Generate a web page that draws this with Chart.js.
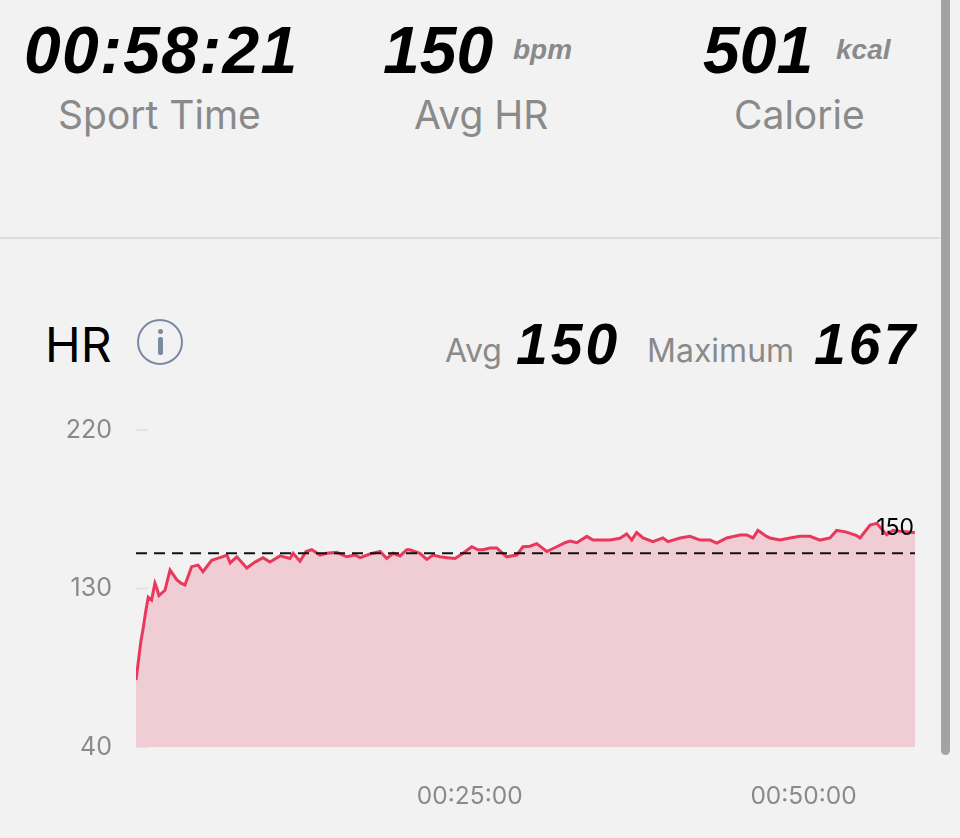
<!DOCTYPE html>
<html>
<head>
<meta charset="utf-8">
<script src="https://cdn.jsdelivr.net/npm/chart.js@4.4.1/dist/chart.umd.min.js"></script>
<style>
  html,body{margin:0;padding:0;background:#f2f2f2;width:960px;height:838px;overflow:hidden;}
  .abs{position:absolute;white-space:nowrap;}
  .big{font-family:"Liberation Sans",Arial,sans-serif;font-weight:bold;font-style:italic;color:#000;}
  .unit{font-family:"Liberation Sans",Arial,sans-serif;font-weight:bold;font-style:italic;color:#8a8a8a;font-size:28px;}
  .lab{font-family:Inter,"Liberation Sans",sans-serif;color:#8a8a8a;font-size:39px;}
  .lab2{font-family:Inter,"Liberation Sans",sans-serif;color:#8a8a8a;font-size:32px;}
  #sep{position:absolute;left:0;top:237px;width:940px;height:2px;background:#dddddd;}
  #scroll{position:absolute;left:941px;top:0;width:9px;height:755px;background:#a3a3a3;border-radius:0 0 5px 5px;}
  #icon{position:absolute;left:137px;top:319px;width:46px;height:46px;border:2.5px solid #7b8aa3;border-radius:50%;box-sizing:border-box;}
  #icon .dot{position:absolute;left:18.5px;top:8px;width:5px;height:5px;border-radius:50%;background:#7b8aa3;}
  #icon .stem{position:absolute;left:18.5px;top:16px;width:5px;height:18px;border-radius:2px;background:#7b8aa3;}
  #chartWrap{position:absolute;left:0;top:390px;width:940px;height:448px;}
</style>
</head>
<body>
<div class="abs big" style="left:24px;top:12px;font-size:66px;letter-spacing:1.3px;">00:58:21</div>
<div class="abs big" style="left:383px;top:12px;font-size:66px;">150</div>
<div class="abs unit" style="left:513px;top:34px;">bpm</div>
<div class="abs big" style="left:703px;top:12px;font-size:66px;">501</div>
<div class="abs unit" style="left:836px;top:34px;">kcal</div>

<div class="abs lab" style="left:58px;top:91px;">Sport Time</div>
<div class="abs lab" style="left:414px;top:91px;">Avg HR</div>
<div class="abs lab" style="left:734px;top:91px;">Calorie</div>

<div id="sep"></div>
<div id="scroll"></div>

<div class="abs" style="left:45px;top:315px;font-family:Inter,'Liberation Sans',sans-serif;font-size:48px;color:#000;">HR</div>
<div id="icon"><div class="dot"></div><div class="stem"></div></div>

<div class="abs lab2" style="left:445px;top:331px;">Avg</div>
<div class="abs big" style="left:516px;top:311px;font-size:57px;letter-spacing:3px;">150</div>
<div class="abs lab2" style="left:647px;top:331px;">Maximum</div>
<div class="abs big" style="left:814px;top:311px;font-size:57px;letter-spacing:3px;">167</div>

<div id="chartWrap"><canvas id="c" width="940" height="448"></canvas></div>

<script>
// Elapsed time in seconds
const timeSec = [0,10,22,33,45,55,70,85,94,103,130,153,183,202,220,250,279,301,340,363,387,409,423,453,498,535,571,602,647,692,706,737,764,790,827,857,902,947,984,1007,1052,1097,1127,1155,1187,1217,1231,1276,1307,1335,1366,1398,1434,1470,1509,1537,1560,1591,1621,1666,1711,1739,1771,1801,1846,1891,1928,1951,1981,2026,2054,2085,2130,2175,2205,2228,2250,2279,2323,2368,2391,2445,2490,2535,2580,2610,2655,2715,2745,2773,2795,2834,2849,2894,2939,2984,3029,3074,3119,3149,3194,3239,3254,3299,3329,3374,3402,3447,3492,3501];
// Heart rate (bpm)
const heartRate = [78,88,100,108,118,125,123.5,133,130,126,129,140.5,135,133,132,142.4,143.3,139.5,146,147,148,149,144.5,148,141.7,145,147.5,145,148.5,147,150,145.5,151,152,149,150,150.5,148,149,147.5,149.6,151,147,150,148.5,152,152,150,146.5,149,148,147.5,147,150,153.7,152,152,153,153,148,149,153.7,154,155.5,151,153.7,156,157,156,159.6,157.5,157.5,157.5,158.5,161,157.5,161.8,158.7,156.6,158.7,156.6,158.7,159.6,157.5,157.5,155.8,158.7,160.4,160.4,158.7,163,159.6,158.7,157.5,158.7,159.6,159.6,157.5,158.7,163,162,160,158.7,166,167,160.5,163,162.3,161.8,162];
const avgHR = 150;
const yTickValues = [40,130,220];
const xTickValues = [1500,3000];
const xTickLabels = ["00:25:00","00:50:00"];
const totalSec = 3501;

const hrPoints = timeSec.map((t,i)=>({x:t,y:heartRate[i]}));
const avgPoints = [{x:0,y:avgHR},{x:totalSec,y:avgHR}];

const overlay = {
  id:'overlay',
  beforeDatasetsDraw(chart){
    const {ctx, chartArea, scales} = chart;
    ctx.save();
    ctx.strokeStyle = '#e2e2e2';
    ctx.lineWidth = 2;
    yTickValues.forEach(v=>{
      const y = scales.y.getPixelForValue(v);
      ctx.beginPath();
      ctx.moveTo(chartArea.left, y);
      ctx.lineTo(chartArea.left + 12, y);
      ctx.stroke();
    });
    ctx.restore();
  },
  afterDatasetsDraw(chart){
    const {ctx, chartArea, scales} = chart;
    ctx.save();
    ctx.fillStyle = '#000';
    ctx.font = '23px Inter, "Liberation Sans", sans-serif';
    ctx.textAlign = 'right';
    ctx.textBaseline = 'alphabetic';
    ctx.fillText(String(avgHR), chartArea.right - 1, scales.y.getPixelForValue(avgHR) - 18);
    ctx.restore();
  }
};

new Chart(document.getElementById('c'), {
  type:'line',
  data:{
    datasets:[
      {
        label:'Avg',
        data:avgPoints,
        borderColor:'#111',
        borderWidth:2,
        borderDash:[11,7],
        pointRadius:0,
        fill:false,
        order:0
      },
      {
        label:'HR',
        data:hrPoints,
        borderColor:'#e8385b',
        borderWidth:3,
        backgroundColor:'#f0ccd4',
        fill:'start',
        pointRadius:0,
        tension:0,
        order:1
      }
    ]
  },
  options:{
    responsive:false,
    animation:false,
    events:[],
    layout:{padding:{top:40,right:25,left:0,bottom:0}},
    plugins:{legend:{display:false},tooltip:{enabled:false}},
    scales:{
      x:{
        type:'linear',
        min:0,max:totalSec,
        border:{display:false},
        grid:{display:false,drawTicks:false},
        afterFit(s){ s.height = 91; },
        afterBuildTicks(s){ s.ticks = xTickValues.map(v=>({value:v})); },
        ticks:{
          padding:35,
          maxRotation:0,
          autoSkip:false,
          color:'#8a8a8a',
          font:{family:'Inter, "Liberation Sans", sans-serif',size:24.5},
          callback:(v)=>{ const i = xTickValues.indexOf(v); return i>=0 ? xTickLabels[i] : ''; }
        }
      },
      y:{
        min:40,max:220,
        border:{display:false},
        grid:{display:false,drawTicks:false},
        afterFit(s){ s.width = 136; },
        afterBuildTicks(s){ s.ticks = yTickValues.map(v=>({value:v})); },
        ticks:{
          padding:24,
          color:'#8a8a8a',
          font:{family:'Inter, "Liberation Sans", sans-serif',size:25}
        }
      }
    }
  },
  plugins:[overlay]
});
</script>
</body>
</html>
